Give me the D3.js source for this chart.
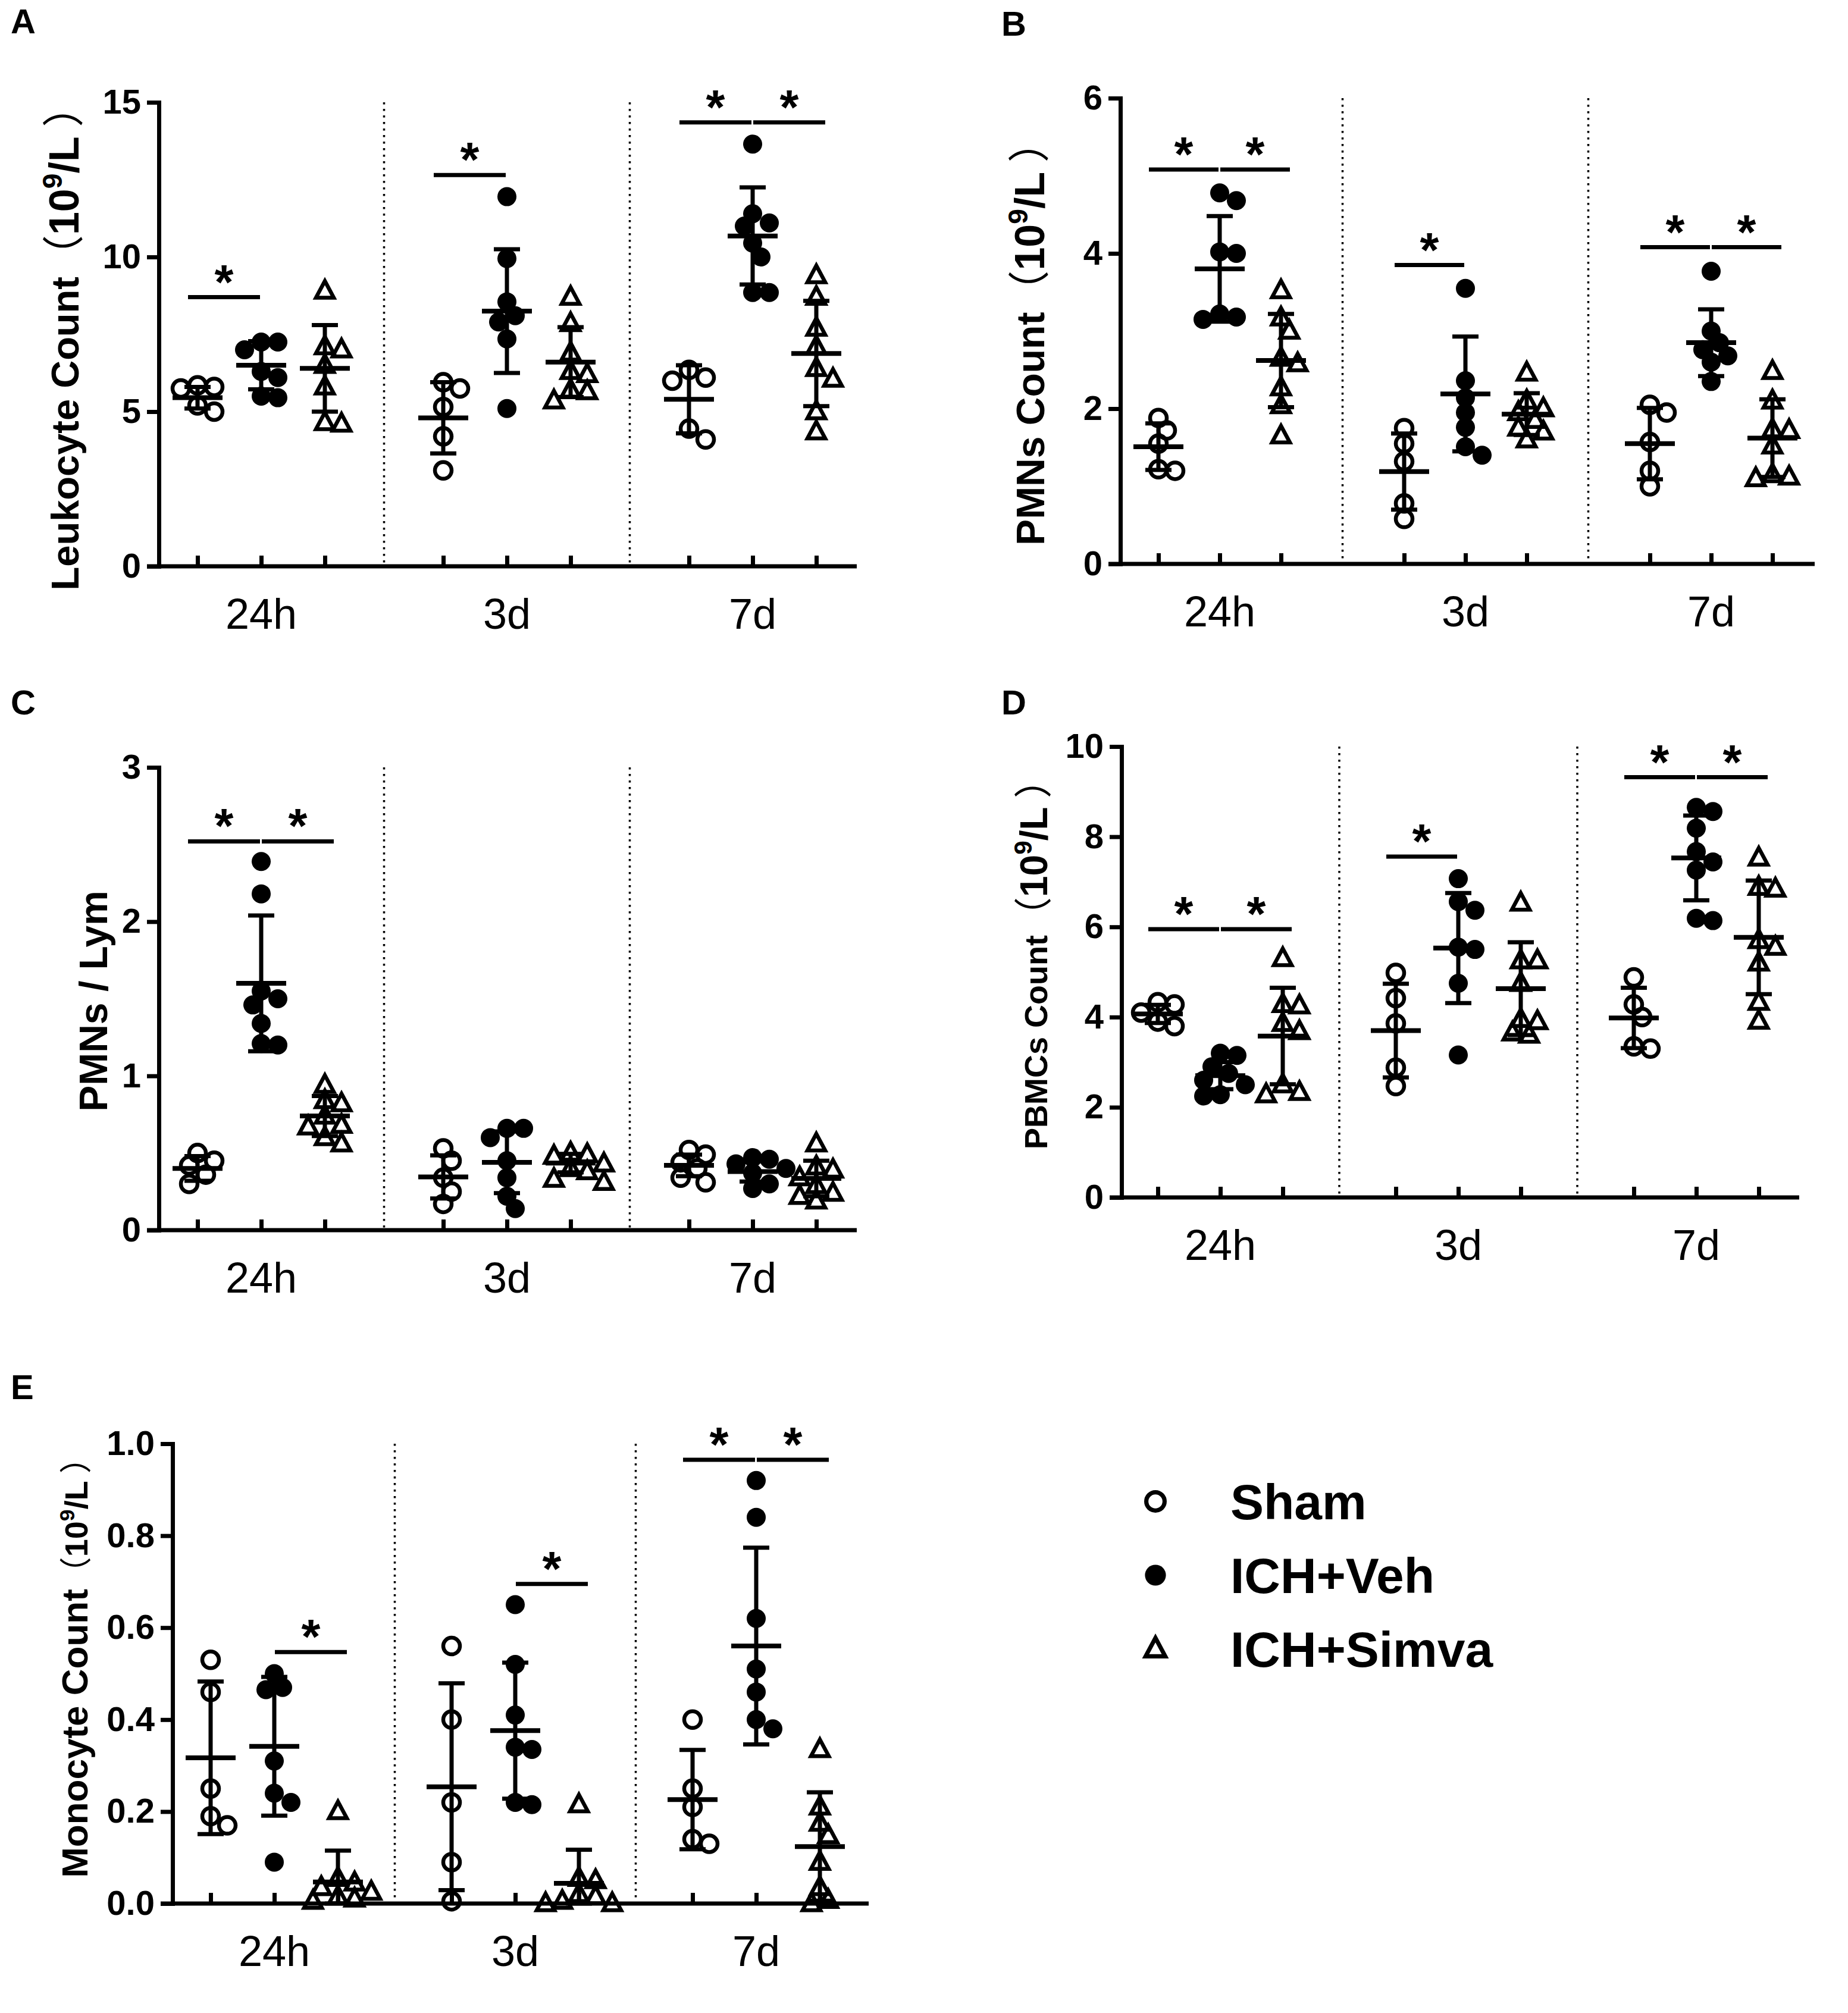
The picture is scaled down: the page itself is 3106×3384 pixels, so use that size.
<!DOCTYPE html>
<html lang="en">
<head>
<meta charset="UTF-8">
<script src="https://d3js.org/d3.v7.min.js"></script>
<style>
body { margin: 0; background: white; }
text { font-family: "Liberation Sans", Arial, sans-serif; fill: black; }
.paren { font-family: "Noto Sans CJK SC", sans-serif; font-weight: normal; }
</style>
</head>
<body>
<div id="chart"></div>
<script>
// categories
var times = ["24h", "3d", "7d"];
var groups = ["Sham", "ICH+Veh", "ICH+Simva"];

// A - leukocyte count, order: 24h Sham/Veh/Simva, 3d ..., 7d ...
var leukoPts = [
  [5.85, 5.8, 5.75, 5.2, 5.0],
  [7.25, 7.25, 7.0, 6.3, 6.1, 5.5, 5.45],
  [8.9, 7.1, 7.0, 6.5, 5.8, 4.65, 4.6],
  [5.95, 5.75, 5.15, 4.2, 3.1],
  [11.95, 9.95, 8.55, 8.1, 7.9, 7.35, 5.1],
  [8.7, 7.85, 6.9, 6.3, 6.2, 5.7, 5.65, 5.35],
  [6.35, 6.1, 6.0, 4.45, 4.1],
  [13.65, 11.4, 11.1, 11.0, 10.45, 10.0, 8.85, 8.85],
  [9.4, 8.7, 7.7, 7.1, 6.4, 6.05, 5.0, 4.35]
];
var leukoMean = [5.45, 6.5, 6.4, 4.8, 8.25, 6.6, 5.4, 10.68, 6.88];
var leukoSD = [0.35, 0.78, 1.4, 1.15, 2.0, 1.13, 1.1, 1.57, 1.7];
var leukoSig = [[0, 0, 1, 8.7], [1, 0, 1, 12.65], [2, 0, 1, 14.35], [2, 1, 2, 14.35]];

// B - PMNs count
var pmnPts = [
  [1.88, 1.72, 1.55, 1.22, 1.2],
  [4.78, 4.68, 4.02, 4.0, 3.22, 3.18, 3.15],
  [3.52, 3.17, 3.0, 2.65, 2.58, 2.27, 2.04, 1.65],
  [1.75, 1.55, 1.32, 0.78, 0.58],
  [3.55, 2.36, 2.14, 1.95, 1.76, 1.51, 1.4],
  [2.46, 2.1, 2.0, 1.95, 1.85, 1.75, 1.7, 1.6],
  [2.05, 1.95, 1.57, 1.2, 1.0],
  [3.77, 3.0, 2.85, 2.76, 2.68, 2.6, 2.35],
  [2.48, 2.1, 1.73, 1.72, 1.52, 1.15, 1.12, 1.1]
];
var pmnMean = [1.51, 3.8, 2.62, 1.19, 2.19, 1.93, 1.55, 2.85, 1.62];
var pmnSD = [0.3, 0.68, 0.6, 0.49, 0.74, 0.27, 0.46, 0.43, 0.5];
var pmnSig = [[0, 0, 1, 5.08], [0, 1, 2, 5.08], [1, 0, 1, 3.85], [2, 0, 1, 4.08], [2, 1, 2, 4.08]];

// C - PMNs / Lym
var ratioPts = [
  [0.5, 0.45, 0.42, 0.36, 0.3],
  [2.39, 2.18, 1.55, 1.5, 1.46, 1.34, 1.21, 1.2],
  [0.94, 0.84, 0.82, 0.74, 0.68, 0.67, 0.6, 0.56],
  [0.53, 0.45, 0.34, 0.25, 0.17],
  [0.66, 0.66, 0.6, 0.45, 0.34, 0.22, 0.14],
  [0.5, 0.49, 0.48, 0.43, 0.4, 0.38, 0.33, 0.31],
  [0.52, 0.49, 0.44, 0.4, 0.34, 0.31],
  [0.47, 0.46, 0.43, 0.4, 0.37, 0.3, 0.27],
  [0.56, 0.41, 0.39, 0.34, 0.29, 0.24, 0.22, 0.19]
];
var ratioMean = [0.4, 1.6, 0.74, 0.345, 0.44, 0.435, 0.42, 0.38, 0.335];
var ratioSD = [0.08, 0.44, 0.13, 0.14, 0.2, 0.06, 0.07, 0.065, 0.115];
var ratioSig = [[0, 0, 1, 2.52], [0, 1, 2, 2.52]];

// D - PBMCs count
var pbmcPts = [
  [4.33, 4.28, 4.1, 3.9, 3.8],
  [3.2, 3.15, 2.9, 2.75, 2.6, 2.5, 2.28, 2.25],
  [5.3, 4.28, 4.25, 3.86, 3.68, 2.5, 2.33, 2.28],
  [4.98, 4.42, 3.86, 2.88, 2.47],
  [7.07, 6.56, 6.37, 5.55, 5.5, 4.75, 3.16],
  [6.53, 5.25, 5.25, 4.75, 3.95, 3.9, 3.65, 3.6],
  [4.88, 4.28, 4.0, 3.35, 3.3],
  [8.65, 8.56, 8.19, 7.67, 7.44, 7.26, 6.19, 6.14],
  [7.53, 6.88, 6.84, 5.7, 5.55, 5.2, 4.33, 3.91]
];
var pbmcMean = [4.07, 2.7, 3.58, 3.7, 5.53, 4.63, 3.98, 7.53, 5.77];
var pbmcSD = [0.2, 0.3, 1.07, 1.04, 1.22, 1.03, 0.67, 0.94, 1.26];
var pbmcSig = [[0, 0, 1, 5.95], [0, 1, 2, 5.95], [1, 0, 1, 7.56], [2, 0, 1, 9.32], [2, 1, 2, 9.32]];

// E - monocyte count
var monoPts = [
  [0.53, 0.46, 0.25, 0.19, 0.17],
  [0.5, 0.47, 0.465, 0.31, 0.24, 0.22, 0.09],
  [0.2, 0.055, 0.045, 0.035, 0.025, 0.015, 0.01, 0.005],
  [0.56, 0.4, 0.22, 0.09, 0.005],
  [0.65, 0.52, 0.41, 0.34, 0.335, 0.22, 0.215],
  [0.215, 0.055, 0.05, 0.02, 0.015, 0.005, 0.0, 0.0],
  [0.4, 0.25, 0.21, 0.14, 0.13],
  [0.92, 0.84, 0.62, 0.51, 0.46, 0.4, 0.38],
  [0.335, 0.21, 0.175, 0.148, 0.09, 0.035, 0.007, 0.0]
];
var monoMean = [0.317, 0.342, 0.047, 0.254, 0.376, 0.044, 0.226, 0.56, 0.124];
var monoSD = [0.166, 0.151, 0.068, 0.225, 0.148, 0.073, 0.108, 0.214, 0.118];
var monoSig = [[0, 1, 2, 0.547], [1, 1, 2, 0.695], [2, 0, 1, 0.965], [2, 1, 2, 0.965]];

var svg = d3.select("#chart").append("svg")
  .attr("width", 3106)
  .attr("height", 3384);

var R = 14;

// open circle / filled circle / open triangle
function marker(sel, g, scale) {
  var k = scale || 1;
  if (g === 2) {
    var h = 28 * k, hw = 15 * k;
    sel.append("path")
      .attr("d", "M0," + (-h * 0.6) + "L" + hw + "," + (h * 0.4) + "L" + (-hw) + "," + (h * 0.4) + "Z")
      .attr("fill", "none").attr("stroke", "black").attr("stroke-width", 6.5 * k)
      .attr("stroke-linejoin", "miter");
  } else {
    sel.append("circle")
      .attr("r", g === 0 ? R * k : (R + 2) * k)
      .attr("fill", g === 0 ? "none" : "black")
      .attr("stroke", "black")
      .attr("stroke-width", g === 0 ? 6.5 * k : 0);
  }
}

// simple beeswarm offsets so overlapping points spread sideways
function swarm(vals, y) {
  var placed = [];
  var minD = 2 * R * 0.85, step = R * 1.0;
  return vals.map(function(v) {
    var py = y(v);
    for (var k = 0; k < 12; k++) {
      var off = k === 0 ? 0 : (k % 2 ? 1 : -1) * Math.ceil(k / 2) * step;
      var hit = placed.some(function(p) {
        var dx = p[0] - off, dy = p[1] - py;
        return dx * dx + dy * dy < minD * minD;
      });
      if (!hit) { placed.push([off, py]); return off; }
    }
    placed.push([0, py]);
    return 0;
  });
}

function yTitle(g, cfg) {
  var t = g.append("text")
    .attr("transform", "translate(" + cfg.tx + "," + cfg.ty + ") rotate(-90)")
    .attr("text-anchor", "middle")
    .attr("font-weight", "bold")
    .attr("font-size", cfg.fs);
  t.append("tspan").text(cfg.title);
  if (cfg.unit) {
    var us = cfg.ufs || cfg.fs;
    t.append("tspan").attr("class", "paren").attr("font-size", us).text("（");
    t.append("tspan").attr("font-size", us).text("10");
    t.append("tspan").attr("font-size", us * 0.66).attr("dy", -us * 0.4).text("9");
    t.append("tspan").attr("font-size", us).attr("dy", us * 0.4).text("/L");
    t.append("tspan").attr("class", "paren").attr("font-size", us).text(" ）");
  }
}

function drawPanel(cfg, pts, mean, sd, sig) {
  var g = svg.append("g");
  var y = d3.scaleLinear().domain([0, cfg.max]).range([cfg.y0, cfg.yTop]);
  var x = d3.scaleLinear().domain([0, 1]).range([cfg.first, cfg.first + cfg.w]);
  var ratio = cfg.s / cfg.w;
  var slot = function(t, gi) { return t * ratio + gi; };

  // panel letter
  g.append("text").attr("x", cfg.lx).attr("y", cfg.ly)
    .attr("font-size", 58).attr("font-weight", "bold").text(cfg.letter);

  // dotted separators
  [0, 1].forEach(function(t) {
    var sx = x(slot(t, 2) + (ratio - 2) / 2);
    g.append("line").attr("x1", sx).attr("x2", sx)
      .attr("y1", cfg.yTop).attr("y2", cfg.y0)
      .attr("stroke", "black").attr("stroke-width", 3.5)
      .attr("stroke-dasharray", "3.5,7.5");
  });

  // y axis
  var ticks = d3.range(0, cfg.max + cfg.step / 2, cfg.step);
  var ya = g.append("g").attr("transform", "translate(" + cfg.ax + ",0)")
    .call(d3.axisLeft(y).tickValues(ticks).tickSize(20).tickSizeOuter(0)
      .tickPadding(10).tickFormat(cfg.fmt || d3.format("d")));
  ya.select(".domain").attr("stroke-width", 7).attr("stroke-linecap", "square");
  ya.selectAll(".tick line").attr("stroke-width", 7);
  ya.selectAll(".tick text").attr("font-size", cfg.tfs || 58).attr("font-weight", "bold")
    .attr("font-family", "'Liberation Sans', Arial, sans-serif");

  // x axis
  var slots = [];
  times.forEach(function(tm, t) { groups.forEach(function(gr, gi) { slots.push(slot(t, gi)); }); });
  g.append("line").attr("x1", cfg.ax - 20).attr("x2", cfg.xEnd)
    .attr("y1", cfg.y0).attr("y2", cfg.y0)
    .attr("stroke", "black").attr("stroke-width", 7);
  var xa = g.append("g").attr("transform", "translate(0," + cfg.y0 + ")")
    .call(d3.axisTop(x).tickValues(slots).tickSize(18).tickSizeOuter(0).tickFormat(""));
  xa.select(".domain").remove();
  xa.selectAll(".tick line").attr("stroke-width", 7);

  g.selectAll(".timeLabel").data(times).enter().append("text")
    .attr("x", function(d, t) { return x(slot(t, 1)); })
    .attr("y", cfg.y0 + 105)
    .attr("text-anchor", "middle")
    .attr("font-size", 72)
    .text(function(d) { return d; });

  // points
  pts.forEach(function(vals, i) {
    var t = Math.floor(i / 3), gi = i % 3;
    var cx = x(slot(t, gi));
    var offs = swarm(vals, y);
    vals.forEach(function(v, j) {
      var m = g.append("g").attr("transform", "translate(" + (cx + offs[j]) + "," + y(v) + ")");
      marker(m, gi);
    });
  });

  // mean and SD
  mean.forEach(function(mv, i) {
    var t = Math.floor(i / 3), gi = i % 3;
    var cx = x(slot(t, gi));
    var hi = y(mv + sd[i]), lo = y(Math.max(0, mv - sd[i]));
    g.append("line").attr("x1", cx).attr("x2", cx).attr("y1", hi).attr("y2", lo)
      .attr("stroke", "black").attr("stroke-width", 7);
    [hi, lo].forEach(function(cy) {
      g.append("line").attr("x1", cx - 22).attr("x2", cx + 22).attr("y1", cy).attr("y2", cy)
        .attr("stroke", "black").attr("stroke-width", 7);
    });
    g.append("line").attr("x1", cx - 42).attr("x2", cx + 42).attr("y1", y(mv)).attr("y2", y(mv))
      .attr("stroke", "black").attr("stroke-width", 8);
  });

  // significance bars
  sig.forEach(function(s) {
    var t = s[0], a = s[1], b = s[2];
    var mid = (x(slot(t, a)) + x(slot(t, b))) / 2 + (a === 0 ? -9 : 8);
    var half = (cfg.w + 14) / 2;
    var ly = y(s[3]);
    g.append("line").attr("x1", mid - half).attr("x2", mid + half)
      .attr("y1", ly).attr("y2", ly)
      .attr("stroke", "black").attr("stroke-width", 7);
    g.append("text").attr("x", mid).attr("y", ly + 2)
      .attr("text-anchor", "middle").attr("font-size", 82).attr("font-weight", "bold")
      .text("*");
  });

  yTitle(g, cfg);
}

drawPanel({letter: "A", lx: 18, ly: 56, ax: 267, y0: 952, yTop: 172, max: 15, step: 5,
  first: 332, w: 107, s: 413, xEnd: 1440,
  title: "Leukocyte Count", unit: true, fs: 65, ufs: 70, tx: 132, ty: 568},
  leukoPts, leukoMean, leukoSD, leukoSig);

drawPanel({letter: "B", lx: 1683, ly: 60, ax: 1883, y0: 948, yTop: 165, max: 6, step: 2,
  first: 1947, w: 103, s: 413, xEnd: 3050,
  title: "PMNs Count", unit: true, fs: 66, ufs: 70, tx: 1755, ty: 560},
  pmnPts, pmnMean, pmnSD, pmnSig);

drawPanel({letter: "C", lx: 18, ly: 1201, ax: 267, y0: 2068, yTop: 1290, max: 3, step: 1,
  first: 332, w: 107, s: 413, xEnd: 1440,
  title: "PMNs / Lym", unit: false, fs: 66, tx: 180, ty: 1683},
  ratioPts, ratioMean, ratioSD, ratioSig);

drawPanel({letter: "D", lx: 1683, ly: 1201, ax: 1885, y0: 2013, yTop: 1255, max: 10, step: 2,
  first: 1946, w: 105, s: 400, xEnd: 3024,
  title: "PBMCs Count", unit: true, fs: 54, ufs: 64, tx: 1760, ty: 1605},
  pbmcPts, pbmcMean, pbmcSD, pbmcSig);

drawPanel({letter: "E", lx: 18, ly: 2352, ax: 290, y0: 3200, yTop: 2427, max: 1.0, step: 0.2,
  first: 354, w: 107, s: 405, xEnd: 1460, fmt: d3.format(".1f"),
  title: "Monocyte Count", unit: true, fs: 62, ufs: 54, tx: 147, ty: 2790},
  monoPts, monoMean, monoSD, monoSig);

// legend
var legend = svg.append("g").attr("transform", "translate(1942,2524)");
groups.forEach(function(name, i) {
  var row = legend.append("g").attr("transform", "translate(0," + (i * 124) + ")");
  marker(row.append("g"), i, 1.1);
  row.append("text").attr("x", 126).attr("y", 30)
    .attr("font-size", 84).attr("font-weight", "bold").text(name);
});
</script>
</body>
</html>
